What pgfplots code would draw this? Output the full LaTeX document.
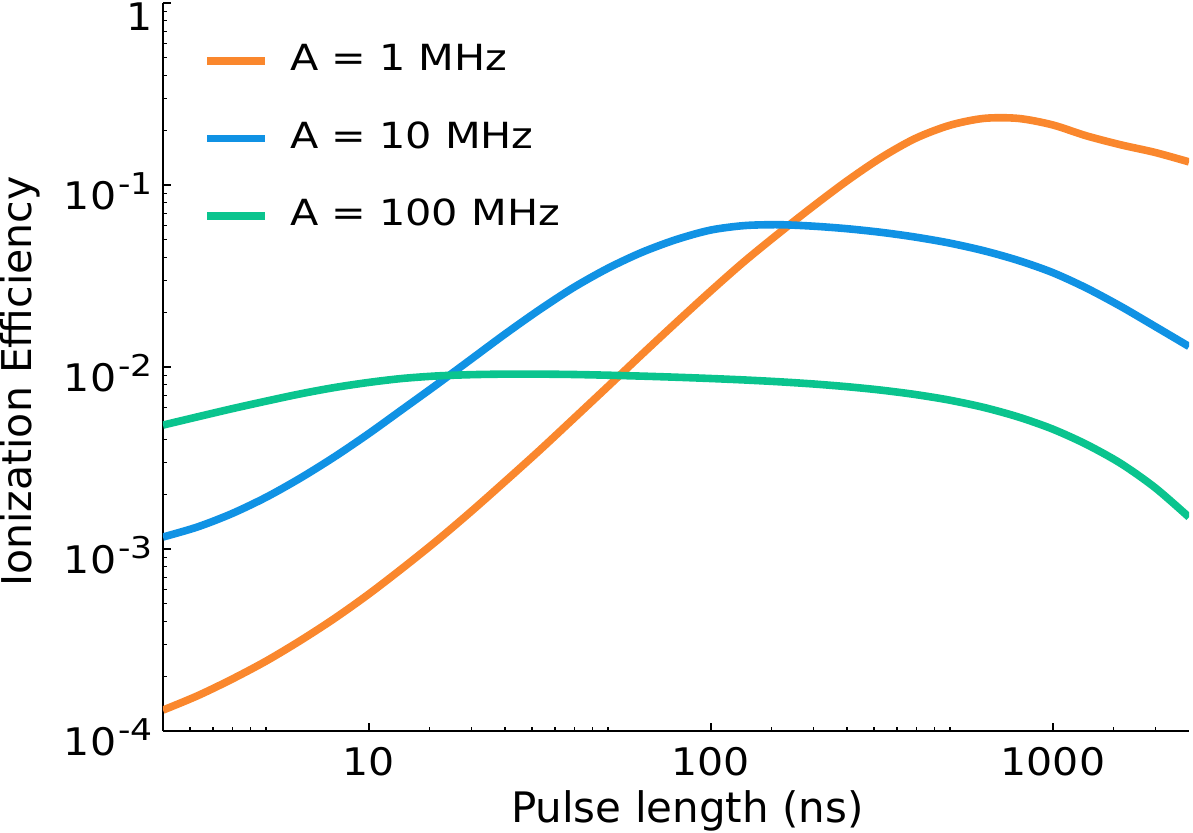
\documentclass[border=0pt]{standalone}
\usepackage{fontspec}
\setmainfont{DejaVu Sans}
\newfontfamily\legendfont{DejaVu Sans}[FakeStretch=1.15]
\newfontfamily\tickfont{DejaVu Sans}[FakeStretch=1.08]
\usepackage{pgfplots}
\usepackage{pgfplotstable}
\pgfplotsset{compat=1.18}

\definecolor{cOrange}{RGB}{250,135,45}
\definecolor{cBlue}{RGB}{16,146,228}
\definecolor{cGreen}{RGB}{10,196,142}

% superscript exponent for the decade labels
\newcommand\tsup[1]{\raisebox{7.5pt}{\legendfont\fontsize{15}{15}\selectfont\kern1pt #1}}

% pulse length (ns) and ionization efficiency for A = 1, 10, 100 MHz
\pgfplotstableread{
x      o         b         g
2.5    1.303e-4  1.164e-3  4.797e-3
3.15   1.560e-4  1.321e-3  5.321e-3
3.96   1.919e-4  1.560e-3  5.888e-3
4.99   2.415e-4  1.919e-3  6.486e-3
6.28   3.126e-4  2.443e-3  7.112e-3
7.91   4.140e-4  3.199e-3  7.709e-3
9.95   5.623e-4  4.285e-3  8.222e-3
12.5   7.816e-4  5.834e-3  8.650e-3
15.8   1.112e-3  8.017e-3  8.933e-3
19.9   1.607e-3  1.104e-2  9.078e-3
25.0   2.350e-3  1.517e-2  9.141e-3
31.5   3.475e-3  2.061e-2  9.141e-3
39.6   5.188e-3  2.729e-2  9.099e-3
49.9   7.798e-3  3.483e-2  9.016e-3
62.8   1.172e-2  4.266e-2  8.913e-3
79.1   1.754e-2  5.012e-2  8.790e-3
99.5   2.600e-2  5.649e-2  8.650e-3
125    3.793e-2  5.984e-2  8.492e-3
158    5.433e-2  6.053e-2  8.299e-3
199    7.638e-2  5.943e-2  8.072e-3
250    0.1054    5.754e-2  7.798e-3
315    0.1416    5.495e-2  7.464e-3
396    0.1803    5.176e-2  7.063e-3
499    0.2128    4.797e-2  6.577e-3
628    0.2323    4.355e-2  5.998e-3
791    0.2323    3.855e-2  5.321e-3
995    0.2143    3.311e-2  4.571e-3
1250   0.1866    2.723e-2  3.767e-3
1580   0.1663    2.153e-2  2.951e-3
1990   0.1510    1.671e-2  2.173e-3
2500   0.1340    1.297e-2  1.496e-3
}\efficiency

\begin{document}
\begin{tikzpicture}
\begin{axis}[
  name=ax,
  scale only axis,
  width=513pt, height=364pt,
  xmode=log, ymode=log,
  xmin=2.5, xmax=2500, ymin=1e-4, ymax=1,
  axis x line*=bottom, axis y line*=left,
  axis line style={line width=1.2pt, -},
  tick align=inside,
  major tick length=4pt, minor tick length=2pt,
  tick style={black, line width=0.6pt},
  xtick={10,100,1000}, xticklabels={10,100,1000},
  minor xtick={3,3.5,4,4.5,5,15,20,25,30,35,40,45,50,150,200,250,300,350,400,450,500,1500,2000},
  ytick={1e-4,1e-3,1e-2,1e-1,1},
  yticklabels={10\tsup{-4},10\tsup{-3},10\tsup{-2},10\tsup{-1},\raisebox{-3.6pt}[\height][0pt]{1}},
  minor ytick={2e-4,3e-4,4e-4,5e-4,6e-4,7e-4,8e-4,9e-4,
               2e-3,3e-3,4e-3,5e-3,6e-3,7e-3,8e-3,9e-3,
               2e-2,3e-2,4e-2,5e-2,6e-2,7e-2,8e-2,9e-2,
               0.2,0.3,0.4,0.5,0.6,0.7,0.8,0.9},
  ticklabel style={font=\tickfont\fontsize{19}{19}\selectfont},
  xticklabel style={inner sep=0pt, yshift=-8pt},
  yticklabel style={inner sep=0pt, xshift=-5pt, yshift=-3pt},
  xlabel={Pulse length (ns)},
  ylabel={Ionization Efficiency},
  xlabel style={font=\fontsize{21}{21}\selectfont, at={(rel axis cs:0.511,0)}, anchor=base, yshift=-45.5pt},
  ylabel style={font=\fontsize{20.5}{20.5}\selectfont, at={(rel axis cs:0,0.480)}, anchor=base, yshift=65.5pt},
  legend style={at={(rel axis cs:0,1)}, anchor=north west, xshift=20pt, yshift=-20.5pt,
    draw=none, fill=none, inner sep=0pt, row sep=23.9pt, column sep=10.5pt,
    nodes={inner sep=0pt}, font=\legendfont\fontsize{18}{18}\selectfont},
  legend cell align=left,
  legend image code/.code={\draw[#1, line width=3.8pt] (0pt,-1pt) -- (29pt,-1pt);},
  every axis plot/.append style={line width=3.8pt, smooth, tension=0.5, no marks},
]
\addplot[cOrange] table[x=x, y=o] {\efficiency};
\addlegendentry{A = 1 MHz}
\addplot[cBlue] table[x=x, y=b] {\efficiency};
\addlegendentry{A = 10 MHz}
\addplot[cGreen] table[x=x, y=g] {\efficiency};
\addlegendentry{A = 100 MHz}
\end{axis}
\pgfresetboundingbox
\useasboundingbox (ax.south west) ++(-81.5pt,-50.5pt) rectangle ++(596.5pt,416pt);
\end{tikzpicture}
\end{document}
